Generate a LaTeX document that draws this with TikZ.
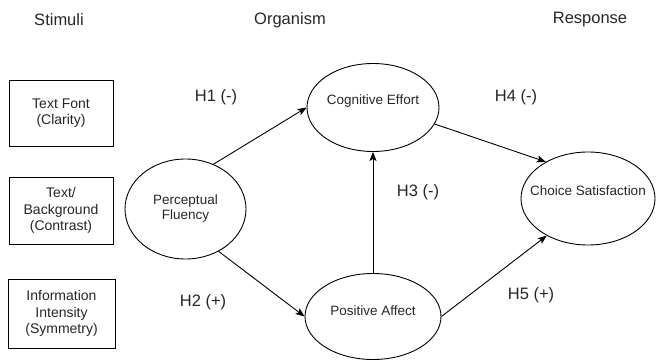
\documentclass[tikz,border=0pt]{standalone}
\usepackage{fontspec}
\setmainfont{Liberation Sans}
\usetikzlibrary{shapes.geometric,arrows.meta}
\newcommand{\ctext}[2]{\raisebox{#1}[0pt][0pt]{\makebox[0pt]{#2}}}
\begin{document}
\begin{tikzpicture}[x=1pt,y=-1pt,
                      heading/.style={font=\fontsize{16.5}{20}\selectfont, text=black!85},
                      hyp/.style={font=\fontsize{16.5}{20}\selectfont, text=black!85},
                      stimbox/.style={draw, line width=0.9pt, minimum width=104pt, minimum height=67pt, align=center, font=\fontsize{14}{16.5}\selectfont, text=black!85},
                      construct/.style={draw, ellipse, line width=0.9pt, inner sep=0pt, align=center, font=\fontsize{13.5}{15}\selectfont, text=black!85},
                      link/.style={line width=0.9pt, -{Stealth[length=9pt,width=7pt,inset=2pt]}}]
                      \useasboundingbox (0,0) rectangle (656,361);

                      \node[heading] (stimuli) at (59,20) {Stimuli};
                      \node[heading] (organism) at (290,20) {Organism};
                      \node[heading] (response) at (590,20) {Response};

                      \node[stimbox, minimum height=66pt] (font) at (61,113) {Text Font\\(Clarity)};
                      \node[stimbox] (contrast) at (61,210.5) {Text/\\Background\\(Contrast)};
                      \node[stimbox, minimum width=107pt, minimum height=69pt] (symmetry) at (61.5,313.5) {Information\\Intensity\\(Symmetry)};

                      \node[construct, minimum width=121pt, minimum height=100pt] (pf) at (185.5,209) {Perceptual\\Fluency};
                      \node[construct, minimum width=132pt, minimum height=88pt] (ce) at (373,107.5) {\ctext{2.8pt}{Cognitive Effort}};
                      \node[construct, minimum width=136pt, minimum height=86pt] (pa) at (373,316.5) {\ctext{1pt}{Positive Affect}};
                      \node[construct, minimum width=134pt, minimum height=93pt] (cs) at (588,198.5) {\ctext{3pt}{Choice Satisfaction}};

                      \draw[link] (pf.58) -- (ce.west);
                      \draw[link] (pf.-52) -- (pa.west);
                      \draw[link] (pa.north) -- (ce.south);
                      \draw[link] (ce.-15) -- (cs.139);
                      \draw[link] (pa.east) -- (cs.222);

                      \node[hyp] (h1) at (216,97) {H1 (-)};
                      \node[hyp] (h2) at (203,302) {H2 (+)};
                      \node[hyp] (h3) at (418,192) {H3 (-)};
                      \node[hyp] (h4) at (516,97) {H4 (-)};
                      \node[hyp] (h5) at (531,295) {H5 (+)};
                  \end{tikzpicture}
\end{document}
